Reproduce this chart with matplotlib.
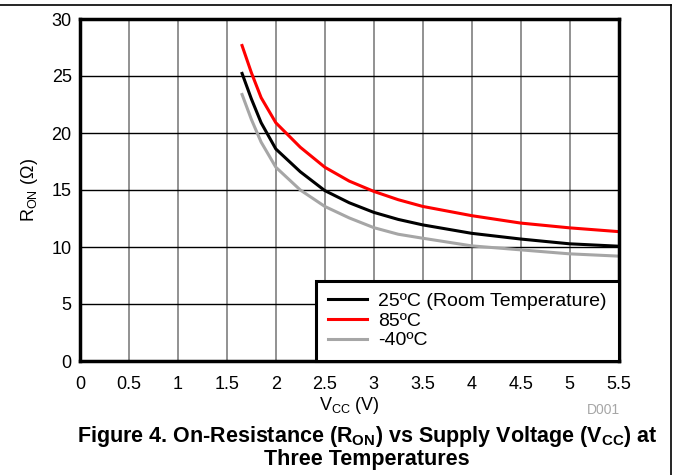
import matplotlib.pyplot as plt
from matplotlib.lines import Line2D

plt.rcParams['font.family'] = ['Liberation Sans', 'DejaVu Sans']
plt.rcParams['mathtext.default'] = 'regular'

# supply voltage (V) and on-resistance (ohm)
vcc = [1.65, 1.75, 1.85, 2.0, 2.25, 2.5, 2.75, 3.0, 3.25, 3.5, 4.0, 4.5, 5.0, 5.5]
ron_25 = [25.35, 23.0, 20.9, 18.6, 16.6, 14.95, 13.88, 13.04, 12.42, 11.94, 11.2, 10.7, 10.28, 10.07]
ron_85 = [27.8, 25.3, 23.1, 20.9, 18.75, 17.0, 15.78, 14.88, 14.15, 13.56, 12.75, 12.1, 11.68, 11.35]
ron_m40 = [23.5, 21.2, 19.2, 17.0, 15.0, 13.56, 12.55, 11.7, 11.12, 10.77, 10.1, 9.75, 9.4, 9.2]

labels = ['25ºC (Room Temperature)', '85ºC', '-40ºC']
colors = ['black', '#ff0000', '#a6a6a6']

fig = plt.figure(figsize=(6.73, 4.75), dpi=100)
ax = fig.add_axes([80 / 673, 1 - 361 / 475, 538.5 / 673, 342 / 475])

# grid: vertical grey, horizontal black
for xv in [0.5, 1, 1.5, 2, 2.5, 3, 3.5, 4, 4.5, 5]:
    ax.axvline(xv, color='#7f7f7f', lw=1.2, zorder=1)
for yv in [5, 10, 15, 20, 25]:
    ax.axhline(yv, color='black', lw=1.0, zorder=1)

ax.plot(vcc, ron_25, color=colors[0], lw=2.2, zorder=3, solid_capstyle='butt', solid_joinstyle='round')
ax.plot(vcc, ron_85, color=colors[1], lw=2.2, zorder=3, solid_capstyle='butt', solid_joinstyle='round')
ax.plot(vcc, ron_m40, color=colors[2], lw=2.2, zorder=3, solid_capstyle='butt', solid_joinstyle='round')

ax.set_xlim(0, 5.5)
ax.set_ylim(0, 30)
ax.set_xticks([0, 0.5, 1, 1.5, 2, 2.5, 3, 3.5, 4, 4.5, 5, 5.5])
ax.set_xticklabels(['0', '0.5', '1', '1.5', '2', '2.5', '3', '3.5', '4', '4.5', '5', '5.5'])
ax.set_yticks([0, 5, 10, 15, 20, 25, 30])
ax.tick_params(length=0, labelsize=13)
ax.tick_params(axis='x', pad=11)
ax.tick_params(axis='y', pad=6)
for s in ax.spines.values():
    s.set_linewidth(2.5)
    s.set_zorder(5)

ax.set_xlabel('$V_{CC}$ (V)', fontsize=13, labelpad=1)
ax.set_ylabel('$R_{ON}$ ($\\Omega$)', fontsize=13, labelpad=8)

handles = [Line2D([], [], color=c, lw=2.2) for c in colors]
leg = ax.legend(handles, labels, loc='lower right', fontsize=14, frameon=True,
                fancybox=False, borderaxespad=0, handlelength=2.0,
                handletextpad=0.6, labelspacing=0.1, borderpad=0.6)
leg.get_frame().set_edgecolor('black')
leg.get_frame().set_linewidth(2.2)
leg.get_frame().set_alpha(1)
leg.set_zorder(6)

fig.text(620 / 673, 1 - 410 / 475, 'D001', fontsize=10, color='#a6a6a6',
         ha='right', va='center')
fig.text(367 / 673, 1 - 447 / 475,
         'Figure 4. On-Resistance ($R_{ON}$) vs Supply Voltage ($V_{CC}$) at\nThree Temperatures',
         fontsize=15.5, fontweight='bold', ha='center', va='center', linespacing=1.0)

# page frame lines
fig.add_artist(Line2D([0, 671 / 673], [1 - 4.5 / 475, 1 - 4.5 / 475], color='black', lw=1.2,
                      transform=fig.transFigure))
fig.add_artist(Line2D([671 / 673, 671 / 673], [0, 1 - 4.5 / 475], color='black', lw=1.2,
                      transform=fig.transFigure))

fig.savefig('out.png', dpi=100)
